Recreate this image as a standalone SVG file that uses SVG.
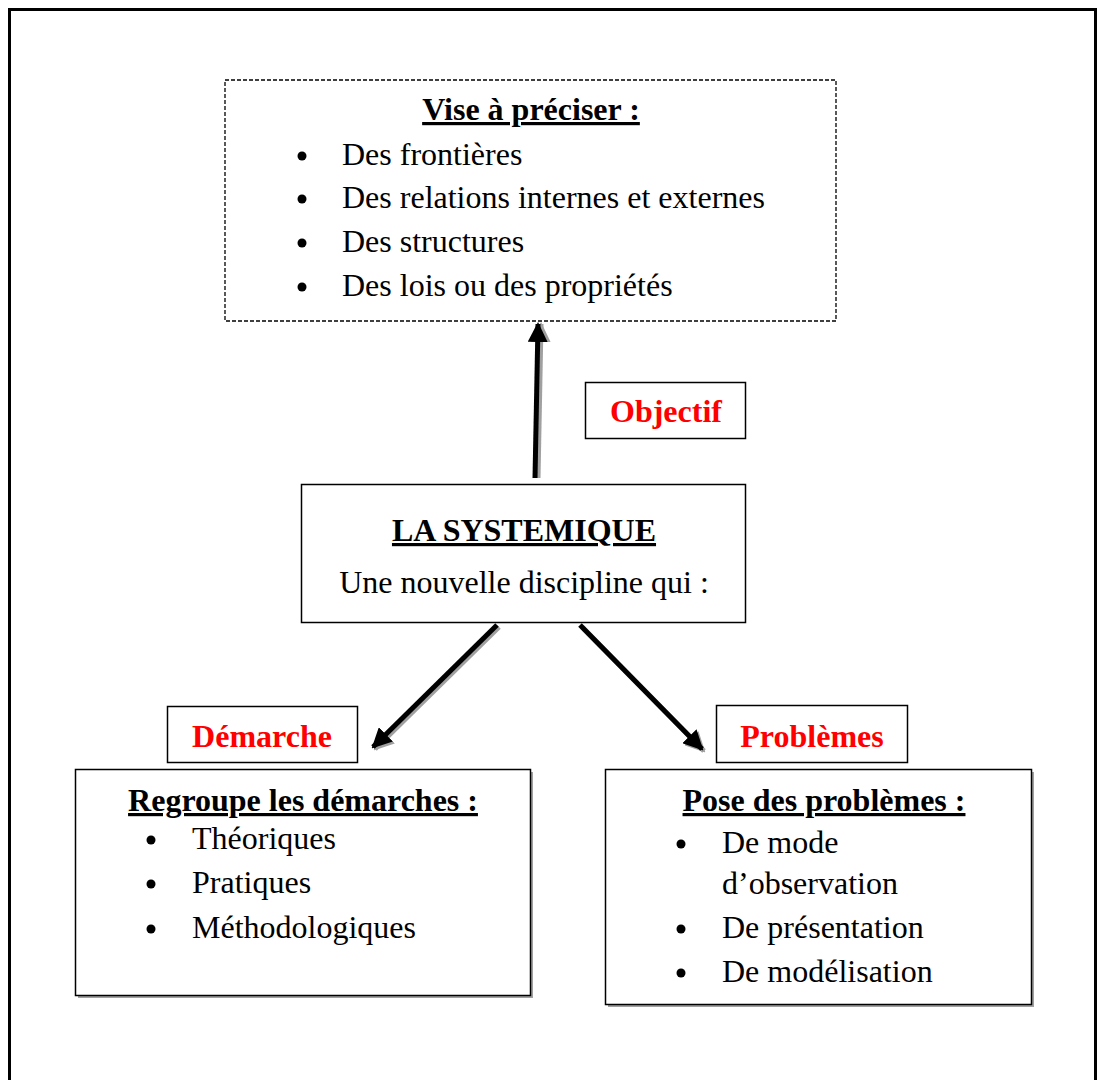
<svg xmlns="http://www.w3.org/2000/svg" width="1097" height="1080" viewBox="0 0 1097 1080">
<style>
.t{font-family:"Liberation Serif","Times New Roman",serif;font-size:32px;fill:#000}
.b{font-weight:bold;text-decoration:underline}
.r{font-family:"Liberation Serif","Times New Roman",serif;font-size:32px;font-weight:bold;fill:#ff0000}
.box{fill:#fff;stroke:#000;stroke-width:1.5}
.shadow{fill:#a0a0a0}
.arrow{stroke:#000;stroke-width:5;fill:none;marker-end:url(#ah)}
.arrowsh{stroke:#a0a0a0;stroke-width:5;fill:none;marker-end:url(#ahs)}
</style>
<defs>
<marker id="ah" viewBox="0 0 10 10" refX="9" refY="5" markerWidth="4" markerHeight="4" orient="auto" markerUnits="strokeWidth"><path d="M0,0 L10,5 L0,10 z" fill="#000"/></marker>
<marker id="ahs" viewBox="0 0 10 10" refX="9" refY="5" markerWidth="4" markerHeight="4" orient="auto" markerUnits="strokeWidth"><path d="M0,0 L10,5 L0,10 z" fill="#a0a0a0"/></marker>
</defs>
<rect width="1097" height="1080" fill="#fff"/>
<path d="M9.5,1085 L9.5,9.5 L1095.5,9.5 L1095.5,1085" fill="none" stroke="#000" stroke-width="3"/>

<g id="connectors">
<line class="arrowsh" x1="538" y1="478" x2="541" y2="324"/>
<line class="arrow" x1="535" y1="478" x2="538" y2="324"/>
<line class="arrowsh" x1="499" y1="627" x2="375" y2="749"/>
<line class="arrow" x1="497" y1="625" x2="373" y2="747"/>
<line class="arrowsh" x1="582" y1="627" x2="704" y2="751"/>
<line class="arrow" x1="580" y1="625" x2="702" y2="749"/>
</g>

<g id="top">
<rect x="225" y="80" width="611" height="241" fill="#fff" stroke="#000" stroke-width="1.3" stroke-dasharray="4,2"/>
<text class="t b" x="531" y="120" text-anchor="middle" font-weight="bold">Vise à préciser :</text>
<circle cx="302" cy="156" r="4.5"/>
<text class="t" x="342" y="165">Des frontières</text>
<circle cx="302" cy="199" r="4.5"/>
<text class="t" x="342" y="208">Des relations internes et externes</text>
<circle cx="302" cy="243" r="4.5"/>
<text class="t" x="342" y="252">Des structures</text>
<circle cx="302" cy="287" r="4.5"/>
<text class="t" x="342" y="296">Des lois ou des propriétés</text>
</g>

<g id="objectif">
<rect class="box" x="585.5" y="382.5" width="160" height="56"/>
<text class="r" x="666" y="422" text-anchor="middle">Objectif</text>
</g>

<g id="center">
<rect class="box" x="301.5" y="484.5" width="444" height="138"/>
<text class="t b" x="524" y="541" text-anchor="middle" font-weight="bold">LA SYSTEMIQUE</text>
<text class="t" x="524" y="593" text-anchor="middle">Une nouvelle discipline qui :</text>
</g>

<g id="demarche">
<rect class="box" x="167.5" y="706.5" width="190" height="56"/>
<text class="r" x="262" y="747" text-anchor="middle">Démarche</text>
</g>

<g id="problemes">
<rect class="box" x="716.5" y="705.5" width="191" height="57"/>
<text class="r" x="812" y="747" text-anchor="middle">Problèmes</text>
</g>

<g id="left">
<rect class="shadow" x="78" y="772" width="455" height="226"/>
<rect class="box" x="75.5" y="769.5" width="455" height="226"/>
<text class="t b" x="303" y="811" text-anchor="middle" font-weight="bold">Regroupe les démarches :</text>
<circle cx="151" cy="840" r="4.5"/>
<text class="t" x="192" y="849">Théoriques</text>
<circle cx="151" cy="884" r="4.5"/>
<text class="t" x="192" y="893">Pratiques</text>
<circle cx="151" cy="929" r="4.5"/>
<text class="t" x="192" y="938">Méthodologiques</text>
</g>

<g id="right">
<rect class="shadow" x="608" y="772" width="426" height="235"/>
<rect class="box" x="605.5" y="769.5" width="426" height="235"/>
<text class="t b" x="824" y="811" text-anchor="middle" font-weight="bold">Pose des problèmes :</text>
<circle cx="681" cy="844" r="4.5"/>
<text class="t" x="722" y="853">De mode</text>
<text class="t" x="722" y="894">d’observation</text>
<circle cx="681" cy="929" r="4.5"/>
<text class="t" x="722" y="938">De présentation</text>
<circle cx="681" cy="973" r="4.5"/>
<text class="t" x="722" y="982">De modélisation</text>
</g>
</svg>
